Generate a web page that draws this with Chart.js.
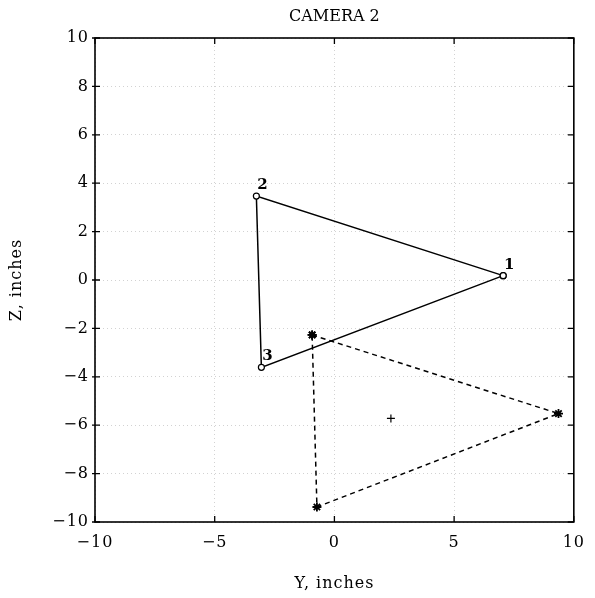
<!DOCTYPE html>
<html>
<head>
<meta charset="utf-8">
<script src="https://cdn.jsdelivr.net/npm/chart.js@4.4.1/dist/chart.umd.min.js"></script>
<style>
  html, body { margin: 0; padding: 0; background: #fff; }
  #wrap { width: 595px; height: 598px; }
</style>
</head>
<body>
<div id="wrap"><canvas id="cam"></canvas></div>
<script>
/* ── Camera 2 target triangles ── */

const xTicks = [-10, -5, 0, 5, 10];
const yTicks = [-10, -8, -6, -4, -2, 0, 2, 4, 6, 8, 10];

// measured triangle (points 1, 2, 3, closed)
const measY = [7.05, -3.26, -3.05, 7.05];
const measZ = [0.18, 3.47, -3.61, 0.18];
const measLabels = ['1', '2', '3'];

// projected triangle (asterisks, closed)
const projY = [-0.93, 9.36, -0.73, -0.93];
const projZ = [-2.27, -5.52, -9.38, -2.27];

// centre mark
const centreY = [2.36];
const centreZ = [-5.72];

const chartTitle = 'CAMERA 2';

const f = `'DejaVu Serif', 'Liberation Serif', serif`;
const toPts = (xs, ys) => xs.map((x, i) => ({ x, y: ys[i] }));
const minus = v => String(v).replace('-', '\u2212');

const framePlugin = {
    id: 'frame',
    beforeDraw(chart) {
        chart.ctx.letterSpacing = '1px';
    },
    afterDatasetsDraw(chart) {
        const { ctx, chartArea: { left, top, right, bottom }, scales: { x, y } } = chart;
        ctx.save();
        ctx.strokeStyle = '#000';
        ctx.lineWidth   = 1.6;
        ctx.strokeRect(left, top, right - left, bottom - top);
        ctx.lineWidth = 1.3;
        ctx.beginPath();
        xTicks.forEach(v => {
            const px = x.getPixelForValue(v);
            ctx.moveTo(px, bottom); ctx.lineTo(px, bottom - 6);
            ctx.moveTo(px, top);    ctx.lineTo(px, top + 6);
        });
        yTicks.forEach(v => {
            const py = y.getPixelForValue(v);
            ctx.moveTo(left - 3, py); ctx.lineTo(left + 5, py);
            ctx.moveTo(right, py);    ctx.lineTo(right - 6, py);
        });
        ctx.stroke();

        // vertex numbers
        const meta = chart.getDatasetMeta(0);
        ctx.fillStyle     = '#000';
        ctx.font          = `bold 15px ${f}`;
        ctx.letterSpacing = '0px';
        ctx.textAlign     = 'center';
        ctx.textBaseline  = 'middle';
        measLabels.forEach((t, i) => {
            const p = meta.data[i];
            ctx.fillText(t, p.x + 6, p.y - 11);
        });

        // title, centred over the plot box
        ctx.font = `16px ${f}`;
        ctx.fillText(chartTitle, (left + right) / 2, 17);
        ctx.restore();
    }
};

new Chart(document.getElementById('cam'), {
    type: 'scatter',
    plugins: [framePlugin],
    data: {
        datasets: [
            {
                data:             toPts(measY, measZ),
                showLine:         true,
                borderColor:      '#000',
                borderWidth:      1.5,
                pointStyle:       'circle',
                pointRadius:      3,
                pointBorderWidth: 1.2,
                pointBackgroundColor: '#fff',
                pointBorderColor: '#000',
            },
            {
                data:             toPts(projY, projZ),
                showLine:         true,
                borderColor:      '#000',
                borderWidth:      1.5,
                borderDash:       [5, 4],
                pointStyle:       'star',
                pointRadius:      4.5,
                pointBorderWidth: 1.8,
                pointBorderColor: '#000',
            },
            {
                data:             toPts(centreY, centreZ),
                showLine:         false,
                pointStyle:       'cross',
                pointRadius:      4,
                pointBorderWidth: 1.2,
                pointBorderColor: '#000',
            },
        ]
    },
    options: {
        responsive:          true,
        maintainAspectRatio: false,
        animation:           false,
        events:              [],
        layout: { padding: { top: 38, left: 0, right: 11, bottom: 0 } },
        plugins: {
            legend:  { display: false },
            tooltip: { enabled: false },
            title:   { display: false },
        },
        scales: {
            x: {
                type: 'linear',
                min: -10, max: 10,
                afterBuildTicks: s => { s.ticks = xTicks.map(v => ({ value: v })); },
                afterFit: s => { s.height = 76; },
                grid:   { color: '#d2d2d2', drawTicks: false, lineWidth: 1 },
                border: { display: false, dash: [1, 3] },
                ticks:  {
                    color: '#000', padding: 11,
                    font: { family: f, size: 16 },
                    callback: minus,
                },
                title:  {
                    display: true, text: 'Y, inches', color: '#000',
                    font: { family: f, size: 16 },
                    padding: { top: 0, bottom: 5 },
                },
            },
            y: {
                type: 'linear',
                min: -10, max: 10,
                afterBuildTicks: s => { s.ticks = yTicks.map(v => ({ value: v })); },
                afterFit: s => { s.width = 95; },
                grid:   { color: '#d2d2d2', drawTicks: false, lineWidth: 1 },
                border: { display: false, dash: [1, 3] },
                ticks:  {
                    color: '#000', padding: 6,
                    font: { family: f, size: 16 },
                    callback: minus,
                },
                title:  {
                    display: true, text: 'Z, inches', color: '#000',
                    font: { family: f, size: 16 },
                    padding: { top: 7, bottom: 0 },
                },
            },
        },
    }
});
</script>
</body>
</html>
